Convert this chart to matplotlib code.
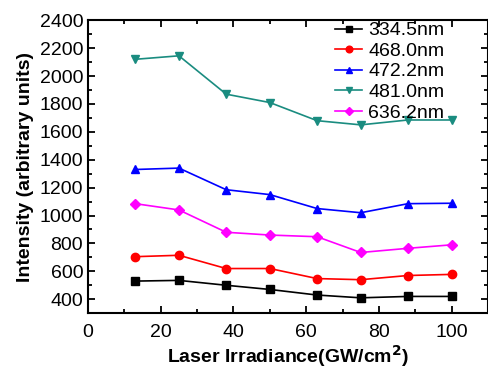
import matplotlib
matplotlib.use('Agg')
import matplotlib.pyplot as plt
from matplotlib.ticker import MultipleLocator

plt.rcParams['font.family'] = ['Liberation Sans', 'DejaVu Sans']

# Laser irradiance (GW/cm^2)
irradiance = [13, 25, 38, 50, 63, 75, 88, 100]

# Intensity per emission line
i_334 = [530, 535, 500, 470, 430, 410, 420, 420]
i_468 = [705, 715, 620, 620, 548, 540, 570, 578]
i_472 = [1330, 1340, 1185, 1150, 1050, 1020, 1085, 1088]
i_481 = [2120, 2145, 1870, 1810, 1680, 1650, 1685, 1685]
i_636 = [1085, 1040, 880, 860, 848, 735, 765, 790]

labels = ['334.5nm', '468.0nm', '472.2nm', '481.0nm', '636.2nm']
series = [i_334, i_468, i_472, i_481, i_636]
colors = ['black', '#ff0000', '#0000ff', '#1a8c80', '#ff00ff']
markers = ['s', 'o', '^', 'v', 'D']

fig = plt.figure(figsize=(4.89, 3.68), dpi=100)
ax = fig.add_axes([0.18, 0.149, 0.818, 0.796])

for y, lab, c, m in zip(series, labels, colors, markers):
    ax.plot(irradiance, y, color=c, marker=m, markersize=6 if m != 'D' else 5,
            linewidth=1.2, label=lab)

ax.set_xlim(0, 110)
ax.set_ylim(300, 2400)
ax.xaxis.set_major_locator(MultipleLocator(20))
ax.xaxis.set_minor_locator(MultipleLocator(10))
ax.yaxis.set_major_locator(MultipleLocator(200))
ax.yaxis.set_minor_locator(MultipleLocator(100))
ax.set_yticks(range(400, 2401, 200))
ax.tick_params(which='both', direction='in', top=True, right=True, labelsize=14, width=1.3)
ax.tick_params(which='major', length=5)
ax.tick_params(which='minor', length=3)
ax.tick_params(axis='x', pad=8)
for s in ax.spines.values():
    s.set_linewidth(1.5)

ax.set_xlabel('Laser Irradiance(GW/cm$\\mathbf{^2}$)', fontsize=14, fontweight='bold', labelpad=1)
ax.set_ylabel('Intensity (arbitrary units)', fontsize=14, fontweight='bold', labelpad=4)

ax.legend(loc='upper right', bbox_to_anchor=(0.9, 1.008), frameon=False, fontsize=14,
          handlelength=1.4, handletextpad=0.3, labelspacing=0.15, borderpad=0.2,
          borderaxespad=0, markerscale=0.8)

fig.savefig('out.png', dpi=100)
